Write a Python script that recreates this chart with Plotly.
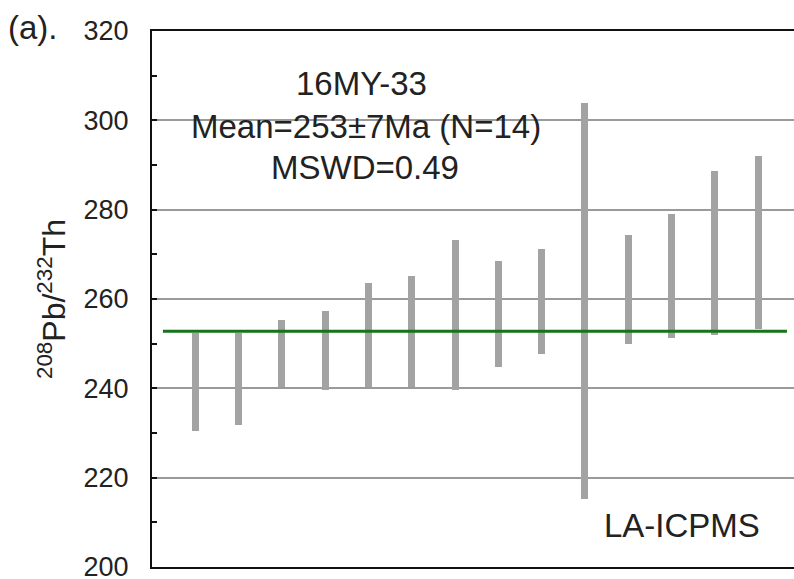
import plotly.graph_objects as go

# Data
spot = list(range(1, 15))
age_low = [230.5, 231.9, 240.2, 239.6, 240.2, 240.4, 239.6, 244.8, 247.6, 215.2, 250.0, 251.3, 251.9, 253.3]
age_high = [252.5, 252.5, 255.4, 257.3, 263.6, 265.2, 273.3, 268.5, 271.1, 303.9, 274.4, 279.0, 288.7, 292.0]
mean_age = 252.8
y_ticks = [200, 220, 240, 260, 280, 300, 320]

FONT = "Liberation Sans, Arial, sans-serif"

fig = go.Figure()
fig.add_trace(go.Bar(
    x=spot,
    y=[h - l for h, l in zip(age_high, age_low)],
    base=age_low,
    width=0.16,
    marker=dict(color="#a3a3a3", line=dict(width=0)),
    showlegend=False,
    hoverinfo="skip",
))

fig.add_shape(type="line", xref="paper", yref="y",
              x0=0.017, x1=0.989, y0=mean_age, y1=mean_age,
              line=dict(color="#16731a", width=3), layer="above")

fig.update_layout(
    width=794, height=579,
    margin=dict(l=152, r=0, t=31, b=12, autoexpand=False),
    paper_bgcolor="white", plot_bgcolor="white",
    font=dict(family=FONT, color="#222222"),
    bargap=0,
    xaxis=dict(range=[0, 14.83], showticklabels=False, ticks="",
               showgrid=False, zeroline=False, automargin=False,
               showline=True, linecolor="#111111", linewidth=2, mirror=True),
    yaxis=dict(range=[200, 320], tickvals=y_ticks,
               ticktext=[str(v) for v in y_ticks],
               tickfont=dict(size=27, family=FONT, color="#222222"),
               ticklabeloverflow="allow",
               automargin=False,
               ticks="inside", ticklen=5, tickcolor="#111111", tickwidth=1.5,
               minor=dict(dtick=10, ticks="inside", ticklen=5, tickcolor="#111111", tickwidth=1.5, showgrid=False),
               showgrid=True, gridcolor="#9a9a9a", gridwidth=1.5,
               zeroline=False,
               showline=True, linecolor="#111111", linewidth=2,
               ticklabelstandoff=16,
               title=dict(text="<sup>208</sup>Pb/<sup>232</sup>Th",
                          font=dict(size=32, family=FONT, color="#222222"),
                          standoff=8)),
)

annos = [
    dict(text="16MY-33", x=361, y=84, size=33),
    dict(text="Mean=253±7Ma (N=14)", x=366, y=127, size=33),
    dict(text="MSWD=0.49", x=365, y=167, size=33),
    dict(text="LA-ICPMS", x=682, y=525, size=33),
    dict(text="(a).", x=33, y=27, size=33),
]
for a in annos:
    fig.add_annotation(text=a["text"], xref="paper", yref="paper",
                       x=(a["x"] - 152) / 642, y=1 - (a["y"] - 31) / 536,
                       showarrow=False, xanchor="center", yanchor="middle",
                       font=dict(size=a["size"], family=FONT, color="#222222"))

fig.write_html("out.html")
